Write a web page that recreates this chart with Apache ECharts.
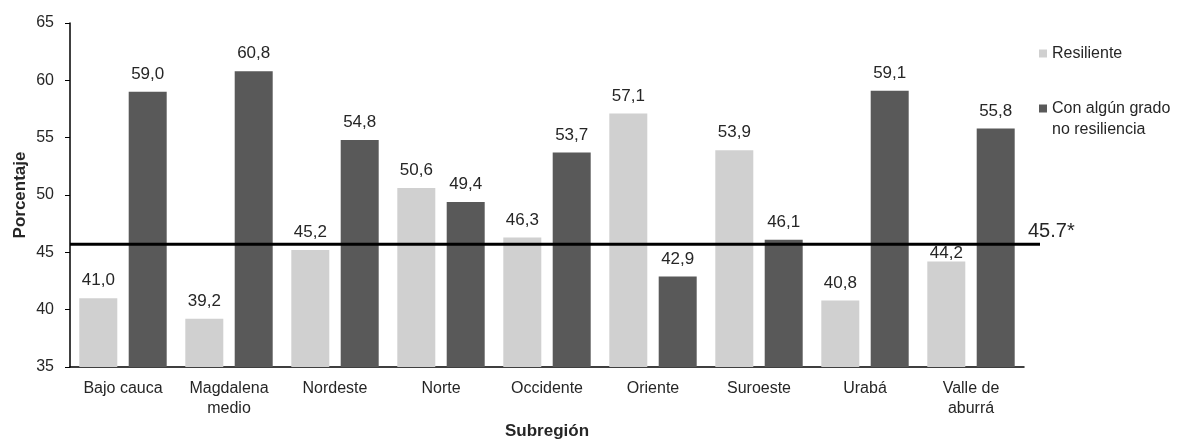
<!DOCTYPE html>
<html>
<head>
<meta charset="utf-8">
<script src="https://cdn.jsdelivr.net/npm/echarts@6/dist/echarts.min.js"></script>
<style>
  html, body { margin: 0; padding: 0; background: #fff; }
  #chart { width: 1179px; height: 446px; }
</style>
</head>
<body>
<div id="chart"></div>
<script>
// Subregions and percentages per group
const subregiones = ['Bajo cauca', 'Magdalena\nmedio', 'Nordeste', 'Norte', 'Occidente', 'Oriente', 'Suroeste', 'Urabá', 'Valle de\naburrá'];
const resiliente = [41.0, 39.2, 45.2, 50.6, 46.3, 57.1, 53.9, 40.8, 44.2];
const noResiliente = [59.0, 60.8, 54.8, 49.4, 53.7, 42.9, 46.1, 59.1, 55.8];
const promedio = 45.7;
const promedioLabel = '45.7*';

const FONT = '"Liberation Sans", Arial, sans-serif';
const TXT = '#262626';

const chart = echarts.init(document.getElementById('chart'), null, { renderer: 'canvas' });

const fmt = p => p.value.toFixed(1).replace('.', ',');

// a label whose text would otherwise cross the reference line sits tight on its bar
const withLabelNudge = arr => arr.map(v => {
  const below = promedio - v;
  return (below > 1 && below < 2) ? { value: v, label: { distance: 0 } } : v;
});

chart.setOption({
  animation: false,
  textStyle: { fontFamily: FONT, color: TXT },
  grid: { left: 70, right: 155, top: 23, bottom: 79, outerBoundsMode: 'none', containLabel: false },
  legend: {
    orient: 'vertical',
    left: 1039,
    top: 43,
    padding: 0,
    itemWidth: 8,
    itemHeight: 8,
    itemGap: 13,
    icon: 'rect',
    textStyle: { fontFamily: FONT, fontSize: 16, color: TXT, lineHeight: 21 },
    // a blank leading line keeps the marker level with the first line of a two-line name
    formatter: name => name.indexOf('\n') >= 0 ? ' \n' + name : name,
    data: ['Resiliente', 'Con algún grado\nno resiliencia']
  },
  xAxis: {
    type: 'category',
    data: subregiones,
    name: 'Subregión',
    nameLocation: 'middle',
    nameGap: 56,
    nameMoveOverlap: false,
    nameTextStyle: { fontFamily: FONT, fontSize: 17, fontWeight: 'bold', color: TXT },
    axisLine: { lineStyle: { color: '#000', width: 1.5 } },
    axisTick: { inside: true, length: 5, lineStyle: { color: '#000' } },
    axisLabel: { fontFamily: FONT, fontSize: 16, color: TXT, margin: 12, lineHeight: 20 }
  },
  yAxis: {
    type: 'value',
    min: 35,
    max: 65,
    interval: 5,
    name: 'Porcentaje',
    nameLocation: 'middle',
    nameGap: 41,
    nameMoveOverlap: false,
    nameTextStyle: { fontFamily: FONT, fontSize: 17, fontWeight: 'bold', color: TXT },
    axisLine: { show: true, lineStyle: { color: '#000', width: 1.5 } },
    axisTick: { show: true, length: 5, lineStyle: { color: '#000' } },
    splitLine: { show: false },
    axisLabel: { fontFamily: FONT, fontSize: 16, color: TXT, margin: 16 }
  },
  series: [
    {
      name: 'Resiliente',
      type: 'bar',
      data: withLabelNudge(resiliente),
      barWidth: 38,
      barGap: '30%',
      itemStyle: { color: '#d0d0d0' },
      label: { show: true, position: 'top', distance: 9, formatter: fmt, fontFamily: FONT, fontSize: 17, color: TXT }
    },
    {
      name: 'Con algún grado\nno resiliencia',
      type: 'bar',
      data: noResiliente,
      barWidth: 38,
      barGap: '30%',
      itemStyle: { color: '#595959' },
      label: { show: true, position: 'top', distance: 9, formatter: fmt, fontFamily: FONT, fontSize: 17, color: TXT }
    }
  ]
});

// Reference line for the overall value, extended past the plot edge
const yLine = chart.convertToPixel({ yAxisIndex: 0 }, promedio);
const xStart = chart.convertToPixel({ xAxisIndex: 0 }, 0) - 53;
chart.setOption({
  graphic: [
    {
      type: 'line',
      shape: { x1: xStart, y1: yLine, x2: 1040, y2: yLine },
      style: { stroke: '#000', lineWidth: 3 },
      z: 10
    },
    {
      type: 'text',
      left: 1028,
      top: yLine - 23,
      style: { text: promedioLabel, fontFamily: FONT, fontSize: 20, fill: TXT },
      z: 10
    }
  ]
});
</script>
</body>
</html>
